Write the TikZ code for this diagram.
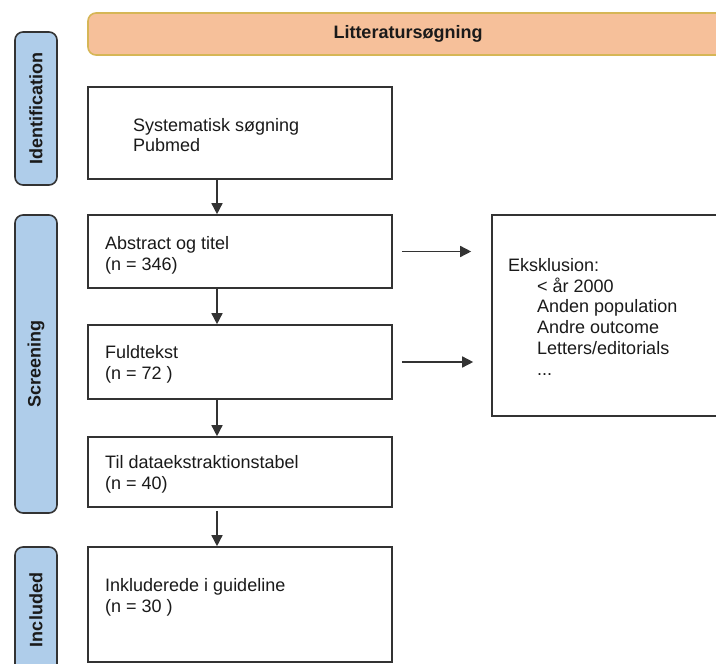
\documentclass[tikz,border=0pt]{standalone}
\usepackage{fontspec}
\setmainfont{Liberation Sans}
\usetikzlibrary{arrows.meta}
\definecolor{boxline}{HTML}{333333}
\definecolor{sidefill}{HTML}{AFCDEA}
\definecolor{headfill}{HTML}{F6C09A}
\definecolor{headline}{HTML}{D6B656}
\definecolor{txtcol}{HTML}{1A1A1A}
\definecolor{arrcol}{HTML}{333333}
\begin{document}
\begin{tikzpicture}[x=1pt,y=-1pt,
  box/.style={draw=boxline,line width=1.6pt,fill=white,inner sep=0pt},
  sidebox/.style={draw=boxline,line width=1.6pt,fill=sidefill,rounded corners=8pt,minimum width=42pt,inner sep=0pt},
  headbox/.style={draw=headline,line width=1.6pt,fill=headfill,rounded corners=8pt,inner sep=0pt},
  txt/.style={anchor=base west,inner sep=0pt,text=txtcol,font=\fontsize{18}{21.6}\selectfont},
  btxt/.style={inner sep=0pt,text=txtcol,font=\fontsize{18}{21.6}\selectfont\bfseries},
  arr/.style={draw=arrcol,line width=1.5pt,-{Triangle[length=11pt,width=11pt]}}
]
\useasboundingbox (0,0) rectangle (716,664);
\clip (0,0) rectangle (716,664);

% header
\node[headbox,minimum width=640pt,minimum height=42pt] (hd) at (408,34) {};
\node[btxt] (hdt) at (hd.center) {Litteratursøgning};

% side boxes
\node[sidebox,minimum height=153pt] (s1) at (36,108.5) {};
\node[btxt,rotate=90] (s1t) at (s1.center) {Identification};
\node[sidebox,minimum height=298pt] (s2) at (36,364) {};
\node[btxt,rotate=90] (s2t) at (s2.center) {Screening};
\node[sidebox,minimum height=133pt] (s3) at (36,613.5) {};
\node[btxt,rotate=90] (s3t) at (36,610) {Included};

% main boxes
\node[box,minimum width=304pt,minimum height=92pt] (b1) at (240,133) {};
\node[box,minimum width=304pt,minimum height=73pt] (b2) at (240,251.5) {};
\node[box,minimum width=304pt,minimum height=74pt] (b3) at (240,362) {};
\node[box,minimum width=304pt,minimum height=70pt] (b4) at (240,472) {};
\node[box,minimum width=304pt,minimum height=115pt] (b5) at (240,604.5) {};
\node[box,minimum width=268pt,minimum height=201pt] (ex) at (626,315.5) {};

% texts
\node[txt] (t1a) at (133,131) {Systematisk søgning};
\node[txt] (t1b) at (133,151) {Pubmed};
\node[txt] (t2a) at (105,249) {Abstract og titel};
\node[txt] (t2b) at (105,270) {(n = 346)};
\node[txt] (t3a) at (105,358) {Fuldtekst};
\node[txt] (t3b) at (105,379) {(n = 72 )};
\node[txt] (t4a) at (105,468) {Til dataekstraktionstabel};
\node[txt] (t4b) at (105,489) {(n = 40)};
\node[txt] (t5a) at (105,591) {Inkluderede i guideline};
\node[txt] (t5b) at (105,612) {(n = 30 )};
\node[txt] (exa) at (508,271) {Eksklusion:};
\node[txt] (exb) at (537,292) {< år 2000};
\node[txt] (exc) at (537,312) {Anden population};
\node[txt] (exd) at (537,333) {Andre outcome};
\node[txt] (exe) at (537,354) {Letters/editorials};
\node[txt] (exf) at (537,375) {...};

% connectors
\coordinate (ax) at (217,0);
\draw[arr] (b1.south -| ax) -- (b2.north -| ax);
\draw[arr] (b2.south -| ax) -- (b3.north -| ax);
\draw[arr] (b3.south -| ax) -- (b4.north -| ax);
\draw[arr,shorten <=3pt] (b4.south -| ax) -- (b5.north -| ax);
\draw[arr,shorten <=9pt,shorten >=20pt] (b2.east) -- (b2.east -| ex.west);
\draw[arr,shorten <=9pt,shorten >=18pt] (b3.east) -- (b3.east -| ex.west);
\end{tikzpicture}
\end{document}
